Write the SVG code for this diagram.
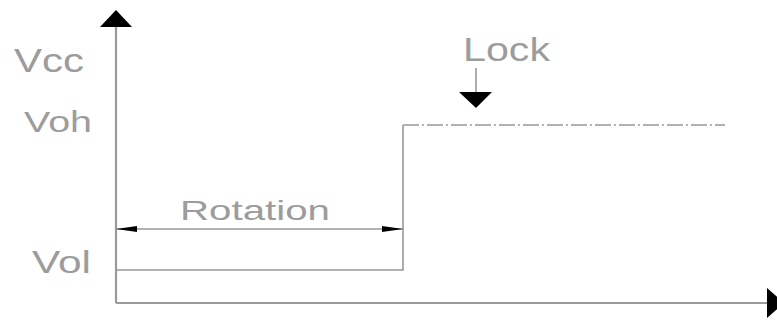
<svg xmlns="http://www.w3.org/2000/svg" width="777" height="320" viewBox="0 0 777 320">
<style>
.t{font-family:"Liberation Sans",Arial,sans-serif;fill:#9c9c9c;}
.ln{stroke:#999;stroke-width:1.6;fill:none;}
.ax{stroke:#9a9a9a;stroke-width:2.2;fill:none;}
.ah{fill:#000;}
</style>
<rect width="777" height="320" fill="#fff"/>
<g id="axes">
<line class="ax" x1="116" y1="303" x2="116" y2="26"/>
<polygon class="ah" points="116,10 100,27 132,27"/>
<line class="ax" x1="116" y1="303" x2="768" y2="303"/>
<polygon class="ah" points="784,303 767,288 767,318"/>
</g>
<g id="labels">
<text class="t" id="vcc" x="14" y="72" font-size="33" textLength="70" lengthAdjust="spacingAndGlyphs">Vcc</text>
<text class="t" id="voh" x="24" y="132" font-size="30" textLength="68" lengthAdjust="spacingAndGlyphs">Voh</text>
<text class="t" id="vol" x="32" y="273" font-size="32" textLength="59" lengthAdjust="spacingAndGlyphs">Vol</text>
</g>
<g id="signal">
<polyline class="ln" points="116,270 403,270 403,125"/>
<line class="ln" x1="403" y1="125" x2="725" y2="125" stroke-dasharray="16 3 2 3"/>
</g>
<g id="rotation">
<line class="ln" x1="116" y1="229" x2="403" y2="229"/>
<polygon class="ah" points="116,229 137,226 137,232"/>
<polygon class="ah" points="403,229 382,226 382,232"/>
<text class="t" x="180" y="220" font-size="28" textLength="150" lengthAdjust="spacingAndGlyphs">Rotation</text>
</g>
<g id="lock">
<text class="t" x="463" y="61" font-size="33" textLength="87" lengthAdjust="spacingAndGlyphs">Lock</text>
<line class="ln" x1="476" y1="68" x2="476" y2="93"/>
<polygon class="ah" points="459,92 492,92 476,108"/>
</g>
</svg>
